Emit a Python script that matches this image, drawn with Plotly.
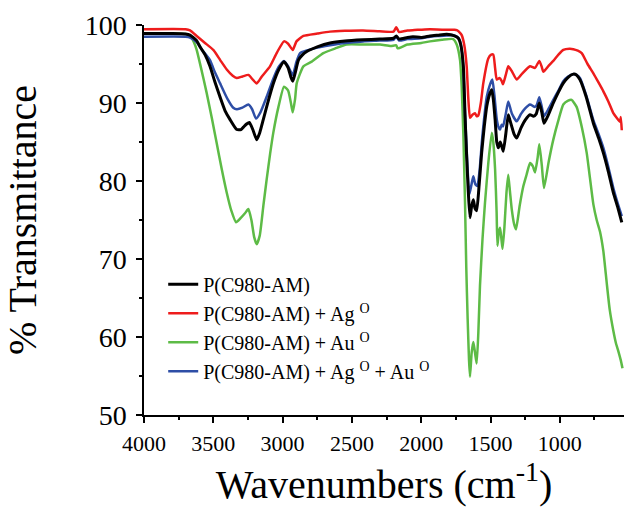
import plotly.graph_objects as go

# FTIR spectra: wavenumber (cm^-1) and % transmittance for each sample
wn_base = [4000, 3800, 3700, 3668, 3620, 3596, 3560, 3524, 3490, 3452, 3415, 3380, 3331, 3300,
           3283, 3260, 3240, 3215, 3187, 3165, 3139, 3100, 3067, 3030, 2990, 2960, 2940, 2927,
           2910, 2886, 2860, 2826, 2750, 2658, 2550, 2420, 2300, 2200, 2180, 2160, 2100, 2060,
           2000, 1937, 1880, 1816, 1760, 1732, 1715, 1696, 1684, 1672, 1660, 1648, 1636, 1624,
           1612, 1600, 1582, 1564, 1545, 1527, 1505, 1491, 1480, 1467, 1455, 1443, 1430, 1420,
           1408, 1390, 1372, 1360, 1347, 1330, 1311, 1280, 1250, 1215, 1190, 1170, 1148, 1130,
           1114, 1080, 1047, 1010, 975, 940, 903, 880, 855, 810, 758, 720, 686, 650, 614, 580, 553]
t_base = [98.9, 98.9, 98.85, 98.7, 98.0, 97.2, 96.2, 94.7, 92.8, 90.8, 89.0, 87.9, 86.6, 86.6,
          86.9, 87.3, 87.5, 86.6, 85.3, 86.2, 87.9, 90.5, 92.5, 94.2, 95.3, 94.5, 93.3, 92.8,
          93.8, 95.5, 96.1, 96.6, 97.2, 97.7, 97.95, 98.1, 98.2, 98.3, 98.6, 98.2, 98.4, 98.5,
          98.4, 98.6, 98.7, 98.8, 98.6, 98.3, 97.5, 94.7, 88.5, 83.0, 78.5, 75.3, 76.8, 77.6,
          76.5, 76.2, 79.5, 83.6, 87.0, 89.6, 91.2, 91.7, 90.5, 87.9, 85.0, 84.25, 85.0, 84.5,
          83.8, 86.0, 88.5, 87.8, 87.0, 86.0, 85.5, 86.8, 87.8, 88.5, 88.3, 88.6, 90.0, 88.8,
          87.4, 88.6, 90.0, 91.4, 92.55, 93.3, 93.7, 93.6, 93.0, 90.8, 87.4, 85.5, 83.6, 81.2,
          78.5, 76.5, 74.7]

wn_ag = [4000, 3700, 3668, 3620, 3560, 3500, 3450, 3403, 3360, 3331, 3290, 3247, 3215, 3187,
         3150, 3091, 3040, 2990, 2960, 2927, 2900, 2850, 2750, 2658, 2550, 2420, 2300, 2200,
         2180, 2160, 2100, 2050, 2000, 1937, 1850, 1760, 1744, 1720, 1708, 1690, 1672, 1660,
         1648, 1630, 1612, 1600, 1588, 1570, 1552, 1516, 1495, 1480, 1467, 1455, 1435, 1419,
         1410, 1390, 1372, 1347, 1311, 1270, 1215, 1179, 1148, 1130, 1119, 1080, 1047, 1010,
         975, 930, 903, 870, 842, 800, 758, 720, 686, 650, 614, 590, 566, 560, 553]
t_ag = [99.45, 99.45, 99.3, 98.6, 97.7, 96.8, 95.5, 94.3, 93.5, 93.2, 93.4, 93.6, 93.0, 92.5,
        93.4, 94.7, 96.5, 97.9, 97.6, 96.8, 97.9, 98.6, 98.9, 99.15, 99.25, 99.3, 99.2, 99.15,
        99.7, 99.1, 99.3, 99.35, 99.4, 99.45, 99.4, 99.4, 99.35, 99.0, 98.7, 97.5, 94.7, 90.5,
        88.1, 88.5, 88.7, 88.3, 88.4, 90.0, 92.55, 95.7, 96.2, 96.2, 94.5, 93.0, 93.2, 92.8,
        92.4, 93.6, 94.7, 94.1, 93.0, 93.8, 94.7, 94.5, 95.4, 94.6, 94.0, 94.8, 95.4, 96.2,
        96.8, 96.95, 96.9, 96.7, 96.4, 95.0, 93.8, 92.6, 91.5, 90.2, 88.7, 88.1, 87.6, 88.2, 86.5]

wn_au = [4000, 3700, 3668, 3640, 3620, 3590, 3548, 3510, 3476, 3440, 3403, 3370, 3336, 3300,
         3270, 3247, 3225, 3205, 3187, 3165, 3139, 3115, 3090, 3067, 3030, 2990, 2960, 2940,
         2927, 2910, 2898, 2850, 2790, 2706, 2620, 2538, 2420, 2297, 2220, 2180, 2170, 2100,
         2000, 1937, 1850, 1770, 1744, 1720, 1708, 1696, 1684, 1675, 1665, 1655, 1648, 1636,
         1624, 1612, 1600, 1588, 1576, 1558, 1540, 1515, 1491, 1480, 1467, 1456, 1450, 1440,
         1431, 1421, 1413, 1400, 1385, 1372, 1360, 1347, 1330, 1316, 1290, 1263, 1240, 1215,
         1195, 1179, 1160, 1148, 1130, 1114, 1080, 1047, 1010, 975, 940, 915, 879, 840, 806,
         782, 758, 734, 710, 686, 662, 640, 614, 595, 578, 560, 548]
t_au = [98.9, 98.85, 98.6, 97.8, 96.8, 94.6, 91.3, 88.0, 84.9, 81.6, 78.5, 76.2, 74.7, 75.3,
        75.9, 76.4, 75.0, 72.8, 71.9, 73.0, 76.8, 80.2, 83.5, 86.2, 89.5, 92.1, 91.6, 90.0,
        88.8, 90.5, 92.55, 94.7, 95.3, 96.4, 97.0, 97.5, 97.5, 97.5, 97.3, 97.4, 97.0, 97.5,
        97.7, 97.9, 98.1, 98.2, 97.5, 95.5, 92.1, 86.0, 77.2, 69.0, 62.3, 57.0, 54.9, 58.0,
        59.35, 58.0, 56.6, 60.5, 66.6, 72.5, 77.2, 82.5, 86.2, 85.0, 81.5, 76.0, 71.7, 73.5,
        74.0, 72.5, 71.3, 74.0, 78.5, 80.8, 78.7, 76.4, 74.5, 73.8, 76.8, 79.35, 80.8, 82.3,
        81.9, 81.1, 83.0, 84.7, 82.0, 79.1, 82.5, 85.3, 87.8, 89.8, 90.3, 90.4, 89.5, 86.8, 83.6,
        80.3, 77.0, 75.0, 73.5, 71.0, 67.0, 63.5, 60.8, 59.2, 58.2, 57.0, 56.0]

wn_agau = [4000, 3700, 3668, 3620, 3580, 3524, 3490, 3452, 3400, 3356, 3330, 3290, 3247, 3220,
           3192, 3160, 3115, 3070, 3030, 2990, 2960, 2927, 2900, 2874, 2830, 2750, 2658, 2550,
           2420, 2300, 2200, 2180, 2160, 2100, 2000, 1937, 1880, 1816, 1768, 1735, 1720, 1700,
           1684, 1668, 1653, 1638, 1624, 1610, 1595, 1578, 1560, 1527, 1505, 1487, 1472, 1455,
           1440, 1431, 1420, 1410, 1390, 1372, 1347, 1311, 1280, 1250, 1215, 1179, 1165, 1148,
           1130, 1114, 1080, 1047, 1010, 975, 940, 903, 880, 855, 810, 758, 720, 686, 650, 614,
           580, 553]
t_agau = [98.5, 98.5, 98.4, 97.8, 96.8, 95.5, 94.0, 92.55, 90.6, 89.4, 89.2, 89.4, 89.8, 89.2,
          88.0, 88.8, 90.8, 93.0, 94.6, 95.4, 94.7, 93.6, 95.3, 96.4, 96.7, 97.1, 97.4, 97.7,
          97.9, 98.0, 98.1, 98.5, 98.0, 98.2, 98.3, 98.5, 98.6, 98.65, 98.7, 98.4, 97.9, 95.5,
          88.7, 82.5, 78.3, 79.5, 80.6, 79.6, 79.35, 81.5, 85.5, 90.8, 92.3, 93.0, 91.0, 87.9,
          86.8, 86.6, 87.2, 87.0, 88.6, 90.2, 88.7, 87.65, 88.6, 89.3, 89.8, 89.5, 89.8, 90.75,
          89.5, 88.3, 89.3, 90.4, 91.6, 92.8, 93.4, 93.7, 93.6, 93.2, 91.0, 87.8, 86.0, 84.25,
          81.8, 79.1, 77.0, 75.5]

series = [
    ("P(C980-AM)", wn_base, t_base, "#000000", 3.0),
    ("P(C980-AM) + Ag <sup>O</sup>", wn_ag, t_ag, "#ee1c1c", 2.5),
    ("P(C980-AM) + Au <sup>O</sup>", wn_au, t_au, "#5dbb46", 2.5),
    ("P(C980-AM) + Ag <sup>O</sup> + Au <sup>O</sup>", wn_agau, t_agau, "#2e4ea6", 2.5),
]

x_ticks = [4000, 3500, 3000, 2500, 2000, 1500, 1000]
y_ticks = [50, 60, 70, 80, 90, 100]

FONT = "Liberation Serif"

fig = go.Figure()
# green underneath, then red, blue, and the base polymer on top
for idx in [2, 1, 3, 0]:
    name, x, y, color, w = series[idx]
    fig.add_trace(go.Scatter(
        x=x, y=y, mode="lines", name=name,
        line=dict(color=color, width=w, shape="spline", smoothing=0.5),
        legendrank=idx + 1,
    ))

axis_common = dict(
    showline=True, linecolor="black", linewidth=1.5, mirror=False,
    ticks="outside", ticklen=6, tickwidth=1.5, tickcolor="black",
    showgrid=False, zeroline=False,
)

fig.update_layout(
    width=624, height=507,
    margin=dict(l=144, r=0, t=25, b=92),
    paper_bgcolor="white", plot_bgcolor="white",
    font=dict(family=FONT, color="black"),
    xaxis=dict(
        range=[4000, 537], tickvals=x_ticks, ticktext=[str(v) for v in x_ticks],
        tickfont=dict(size=22, family=FONT, color="black"), ticklabelstandoff=2,
        minor=dict(dtick=250, tick0=0, ticks="outside", ticklen=3, tickwidth=1.5, tickcolor="black"),
        title=dict(text="Wavenumbers (cm<sup>-1</sup>)", font=dict(size=40, family=FONT, color="black"), standoff=18),
        **axis_common,
    ),
    yaxis=dict(
        range=[50, 100], tickvals=y_ticks, ticktext=[str(v) for v in y_ticks],
        tickfont=dict(size=28, family=FONT, color="black"), ticklabelstandoff=4,
        minor=dict(dtick=5, tick0=0, ticks="outside", ticklen=3, tickwidth=1.5, tickcolor="black"),
        title=dict(text="% Transmittance", font=dict(size=40, family=FONT, color="black"), standoff=40),
        **axis_common,
    ),
    showlegend=True,
    legend=dict(
        x=0.04, y=0.385, xanchor="left", yanchor="top",
        font=dict(size=20, family=FONT, color="black"),
        bgcolor="rgba(0,0,0,0)", tracegroupgap=0,
    ),
)

fig.write_html("out.html")
